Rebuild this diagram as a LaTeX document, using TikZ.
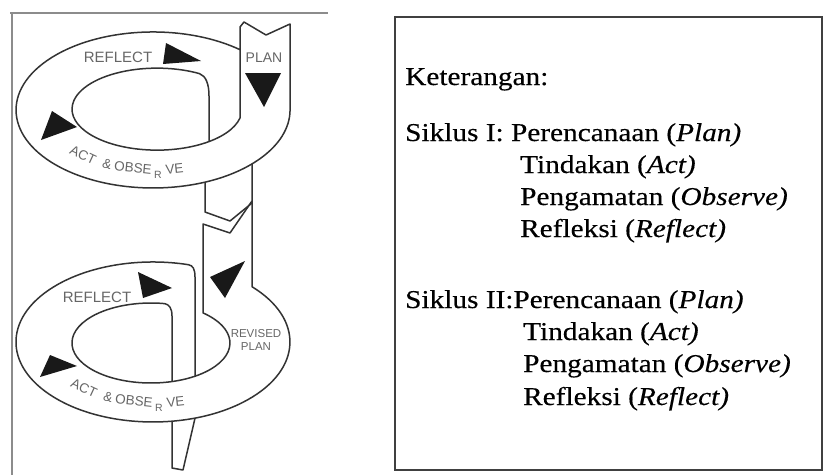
\documentclass[tikz,border=0pt]{standalone}
\usepackage{fontspec}
\setmainfont{Liberation Serif}[FakeStretch=1.14, FakeBold=0.3]
\newfontfamily\lblfont{Liberation Sans}
\begin{document}
\begin{tikzpicture}[x=1pt,y=-1pt,
  ln/.style={draw=black!80, line width=1.5pt, line join=round},
  tri/.style={fill=black!90},
  lbl/.style={font=\lblfont\fontsize{15}{15}\selectfont, text=black!60, inner sep=0},
  chr/.style={font=\lblfont\fontsize{13.5}{13.5}\selectfont, text=black!60, inner sep=0},
  txt/.style={anchor=base west, inner sep=0, font=\fontsize{25.7}{30}\selectfont, text=black}]
\useasboundingbox (0,0) rectangle (824,475);
\fill[white] (0,0) rectangle (824,475);
% left frame
\draw[draw=black!45, line width=2pt] (10,13) -- (328,13);
\draw[draw=black!45, line width=2pt] (12,13) -- (12,475);
% legend box
\draw[draw=black!75, line width=2pt] (395,17) rectangle (822,470);
% ---- ring 1
\draw[ln] (240,49.7) arc[start angle=-50.6, end angle=-360, x radius=137, y radius=78]
  -- (290,24) -- (266,35) -- (244,22) -- (240,27) -- (240,118)
  arc[start angle=12.5, end angle=300, x radius=85, y radius=41]
  .. controls (206,76) and (209,84) .. (209,96) -- (209,141);
% strip between rings
\draw[ln] (205,182.2) -- (205,212) -- (230,221) -- (252,203);
\draw[ln] (252,163.9) -- (252,286.7)
  arc[start angle=-43.7, end angle=285, x radius=137, y radius=80]
  .. controls (193,265.5) and (195,269) .. (195,277) -- (195,376);
\draw[ln] (252,201) -- (230,233) -- (203,224) -- (203,312.9)
  arc[start angle=-48.8, end angle=280, x radius=79, y radius=40]
  .. controls (169,304.5) and (172,308) .. (172,316) -- (172,381.6);
% tail
\draw[ln] (172,421) -- (172,468) -- (183,470) -- (195,418.2);
% triangles
\fill[tri] (166,43) -- (201,61) -- (163,64) -- cycle;
\fill[tri] (245,73) -- (281,73) -- (264,107) -- cycle;
\fill[tri] (52,111) -- (77,127) -- (41,140) -- cycle;
\fill[tri] (138,272) -- (172,288) -- (143,298) -- cycle;
\fill[tri] (50,355) -- (77,366) -- (40,377) -- cycle;
\fill[tri] (210,277) -- (245,261) -- (225,298) -- cycle;
% labels
\node[lbl] (refl1) at (118,57) {REFLECT};
\node[lbl, font=\lblfont\fontsize{14}{14}\selectfont] (plan1) at (264,58) {PLAN};
\node[lbl] (refl2) at (97,297) {REFLECT};
\node[lbl, align=center, font=\lblfont\fontsize{11.5}{13.5}\selectfont] (rplan) at (256,340) {REVISED\\PLAN};
\foreach \w/\x/\y/\a [count=\i] in {ACT/83/155/-25, \&/107/164/-14, OBSE/133/168/-6, VE/174.5/169/6}
{
  \node[chr, rotate=\a] (aoa-\i) at (\x,\y) {\w};
  \node[chr, rotate=\a] (aob-\i) at (\x+1,\y+233) {\w};
}
\node[chr, font=\lblfont\fontsize{10.5}{10.5}\selectfont] (aoa-r) at (158,174.5) {R};
\node[chr, font=\lblfont\fontsize{10.5}{10.5}\selectfont] (aob-r) at (159,407.5) {R};
% legend text
\node[txt] (ket) at (405,85) {Keterangan:};
\node[txt] (s1) at (405,141) {Siklus I: Perencanaan (\textit{Plan)}};
\node[txt] (s1a) at (520,173) {Tindakan (\textit{Act)}};
\node[txt] (s1b) at (520,205) {Pengamatan (\textit{Observe)}};
\node[txt] (s1c) at (520,237) {Refleksi (\textit{Reflect)}};
\node[txt] (s2) at (405,308) {Siklus II:Perencanaan (\textit{Plan)}};
\node[txt] (s2a) at (523,340) {Tindakan (\textit{Act)}};
\node[txt] (s2b) at (523,372) {Pengamatan (\textit{Observe)}};
\node[txt] (s2c) at (523,405) {Refleksi (\textit{Reflect)}};
\end{tikzpicture}
\end{document}
